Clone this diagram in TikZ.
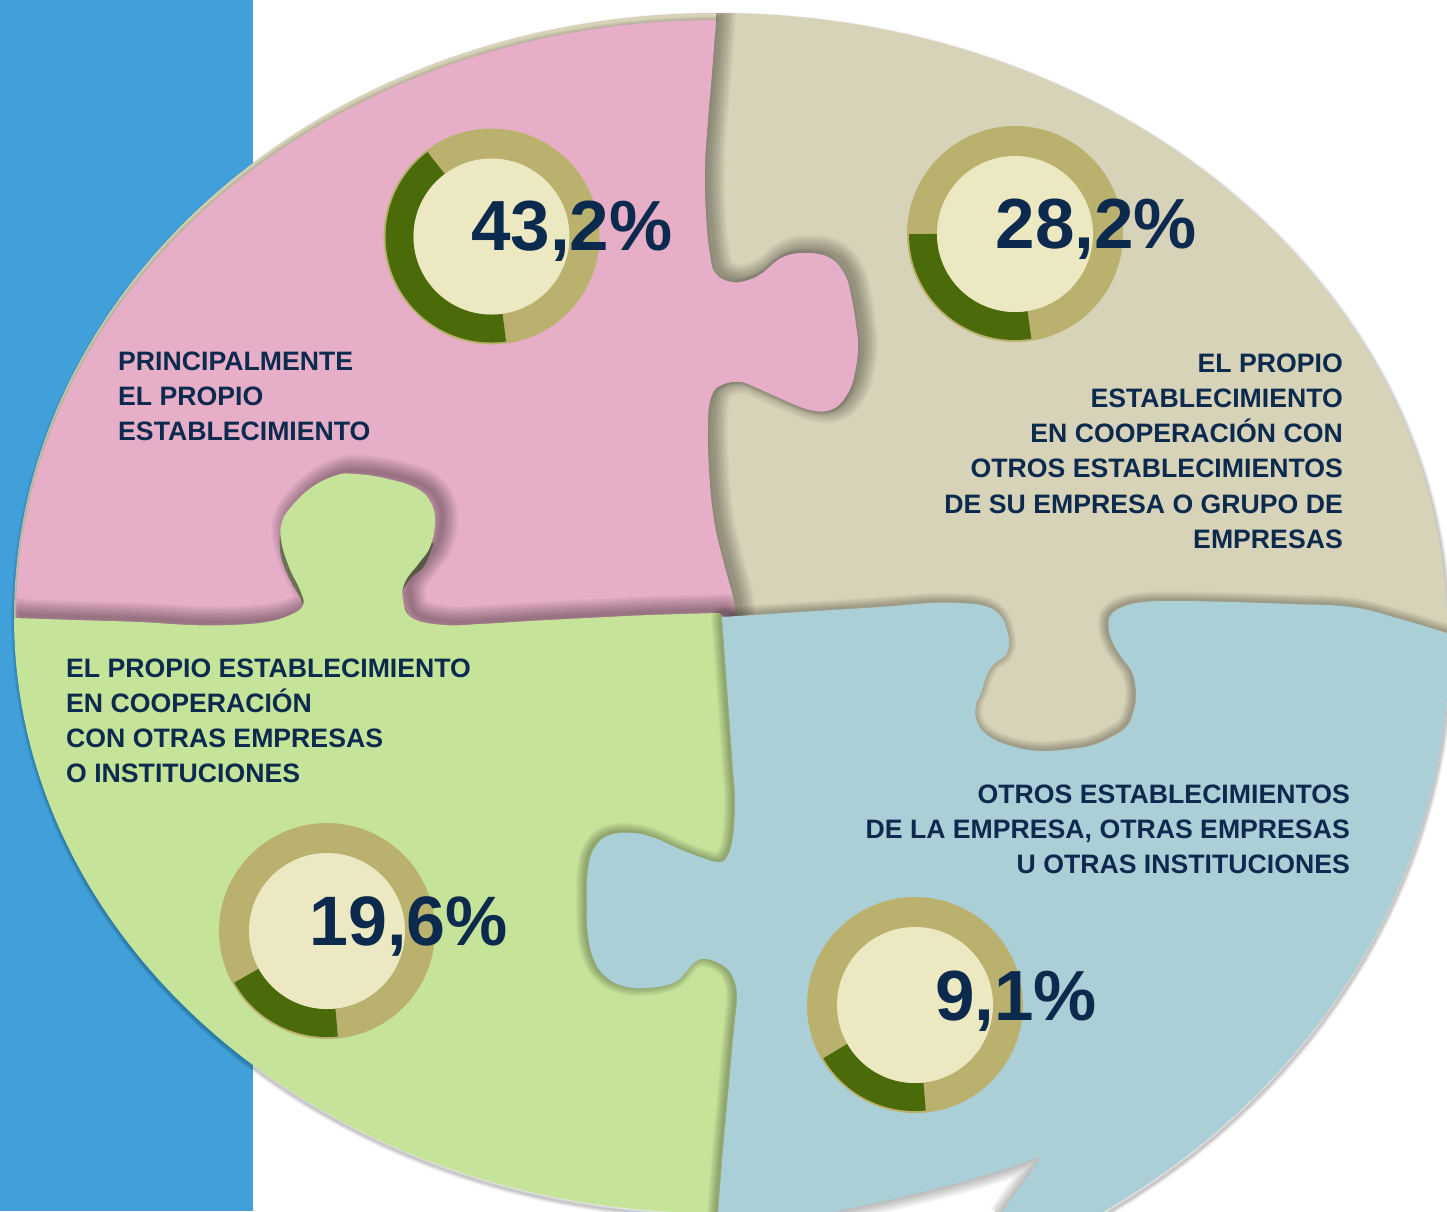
\documentclass[tikz,border=0pt]{standalone}
\usepackage{fontspec}
\setmainfont{Liberation Sans}
\definecolor{barblue}{HTML}{41A0DA}
\definecolor{pinkpc}{HTML}{E6AFC7}
\definecolor{tanpc}{HTML}{D7D3B8}
\definecolor{greenpc}{HTML}{C6E39A}
\definecolor{bluepc}{HTML}{ABCFD7}
\definecolor{ringc}{HTML}{BBB16E}
\definecolor{darkc}{HTML}{4B6A0A}
\definecolor{innerc}{HTML}{ECE9C2}
\definecolor{textc}{HTML}{0C2A4E}
\definecolor{crescent}{HTML}{85866C}
\tikzset{
  sm/.style={smooth,tension=.7},
  lab/.style={inner sep=0pt,text=textc,font=\fontsize{26.65}{35.2}\selectfont\bfseries},
  pct/.style={inner sep=0pt,text=textc,anchor=base west,font=\fontsize{71}{71}\selectfont\bfseries},
}
\def\ovaltop{(14,617) arc[start angle=180,end angle=90,x radius=702pt,y radius=604pt] arc[start angle=90,end angle=0,x radius=731pt,y radius=618pt]}
\def\ovalbr{(1447,699) arc[start angle=-5,end angle=-58,x radius=750pt,y radius=678pt]}
\def\ovalbl{(716,1213) arc[start angle=270,end angle=180,x radius=702pt,y radius=596pt]}
\def\notchedge{(1042,1156) .. controls (980,1180) and (900,1198) .. (820,1215)}
\edef\ovalpath{\ovaltop -- \ovalbr -- \ovalbl -- cycle}
\edef\tanpath{\ovaltop -- (1447,640) -- (1300,640) -- (1140,760) -- (720,760) -- (20,625) -- cycle}
\def\pinkpath{plot[sm] coordinates{(716,20)(712,73)(708,120)(705,167)(706,215)(710,255)(716,274)(732,282)(748,280)(762,273)(783,257)(807,253)(830,258)(845,275)(852,300)(856,325)(858,347)(855,372)(848,393)(833,409)(810,410)(777,397)(757,388)(740,382)(722,385)(712,395)(708,420)(709,470)(714,520)(723,560)(733,597)(735,613)}
 -- (735,640) -- (30,640) -- (16,618) arc[start angle=180,end angle=90,x radius=700pt,y radius=598pt] -- cycle}
\edef\greenpath{plot[sm] coordinates{(14,618)(75,620)(138,622)(190,625)(230,625)(266,622)(290,615)(303,605)(300,590)(289,567)(281,540)(282,522)(291,507)(312,487)(337,475)(355,474)(384,478)(416,488)(431,503)(435,523)(430,547)(419,563)(405,582)(403,600)(412,618)(444,625)(480,624)(530,621)(587,618)(650,615)(719,613)}
 -- (728,620) -- (745,800) -- (745,1213) -- \ovalbl -- cycle}
\edef\bluepath{plot[sm] coordinates{(722,617)(800,612)(880,607)(930,603)(960,603)(985,606)(1000,615)(1007,630)(1009,645)(1005,656)(995,663)(987,675)(981,693)(976,705)(977,722)(990,737)(1015,747)(1042,751)(1070,749)(1093,745)(1115,735)(1128,725)(1134,710)(1136,697)(1135,683)(1131,670)(1122,658)(1114,645)(1109,630)(1111,615)(1125,606)(1145,602)(1175,601)(1230,602)(1290,604)(1351,607)(1397,618)(1447,633)}
 -- \ovalbr
 -- (1000,1215) -- \notchedge
 -- plot[sm] coordinates{(718,1213)(723,1150)(728,1095)(733,1040)(735,1020)(737,997)(734,980)(725,967)(707,959)(695,962)(686,972)(673,983)(647,988)(623,986)(605,976)(594,960)(588,935)(587,905)(588,870)(595,847)(610,835)(633,833)(655,838)(677,848)(700,857)(718,862)(727,857)(733,837)(735,800)(733,770)(728,700)(722,617)} -- cycle}
\edef\notchfill{(1000,1215) -- \notchedge -- cycle}
\edef\notchline{(1000,1215) -- \notchedge}
% path, dx, dy, max width, opacity
\newcommand\softshadow[5]{\begin{scope}[shift={(#2,#3)}]
  \foreach \k in {1,...,12}{\draw[black,opacity=#5,line join=round,line width=\k*#4/12*1pt] #1;}
\end{scope}}
\newcommand\donut[4]{% center x, y, start, end
  \fill[ringc] (#1,#2) circle[radius=108pt];
  \begin{scope}[shift={(#1,#2)}]
    \draw[darkc,line width=28pt] (#3:92pt) arc[start angle=#3,end angle=#4,radius=92pt];
  \end{scope}
  \fill[innerc] (#1,#2) circle[radius=78pt];
}
\begin{document}
\begin{tikzpicture}[x=1pt,y=-1pt]
\useasboundingbox (0,0) rectangle (1447,1211);
\fill[white] (0,0) rectangle (1447,1211);
\fill[barblue] (0,0) rectangle (253,1211);
\begin{scope}
  \clip (0,0) rectangle (1447,1211);
  \softshadow{\ovalpath}{1}{3}{8}{.02}
  \fill[tanpc] \tanpath;
  \begin{scope}
    \clip \tanpath;
    \softshadow{\pinkpath}{0}{0}{8}{.012}
    \begin{scope}
      \clip (690,30) rectangle (1447,1211) (716,0) rectangle (1447,30);
      \softshadow{\pinkpath}{5}{-3}{30}{.028}
    \end{scope}
  \end{scope}
  \fill[pinkpc] \pinkpath;
  \fill[crescent] plot[sm] coordinates{(280,533)(281,557)(291,582)(300,597)(303,607)} -- (320,607) -- (320,533) -- cycle;
  \fill[crescent] plot[sm] coordinates{(434,543)(424,566)(412,577)(402,592)(403,603)(408,614)} -- (390,614) -- (390,543) -- cycle;
  \begin{scope}
    \clip \pinkpath;
    \softshadow{\greenpath}{7}{-3}{32}{.03}
  \end{scope}
  \fill[greenpc] \greenpath;
  \begin{scope}
    \clip \ovalpath;
    \softshadow{\bluepath}{-2}{-1}{18}{.022}
    \fill[white] \notchfill;
  \end{scope}
  \begin{scope}
    \clip \notchfill;
    \softshadow{\notchline}{0}{0}{24}{.025}
  \end{scope}
  \fill[bluepc] \bluepath;
\end{scope}
\donut{491.5}{236.5}{127}{278}
\donut{1015}{234}{180}{279}
\donut{327}{931}{209}{276}
\donut{915}{1005}{210}{276}
\node[pct] (p1) at (471,250) {43,2\%};
\node[pct] (p2) at (995.5,248) {28,2\%};
\node[pct,font=\fontsize{70}{70}\selectfont\bfseries] (p3) at (309,945) {19,6\%};
\node[pct] (p4) at (935,1020) {9,1\%};
\node[lab,anchor=north west,align=left] (t1) at (118,351.5) {PRINCIPALMENTE\\EL PROPIO\\ESTABLECIMIENTO};
\node[lab,anchor=north east,align=right] (t2) at (1343,353.5) {EL PROPIO\\ESTABLECIMIENTO\\EN COOPERACIÓN CON\\OTROS ESTABLECIMIENTOS\\DE SU EMPRESA O GRUPO DE\\EMPRESAS};
\node[lab,anchor=north west,align=left] (t3) at (66,658.5) {EL PROPIO ESTABLECIMIENTO\\EN COOPERACIÓN\\CON OTRAS EMPRESAS\\O INSTITUCIONES};
\node[lab,anchor=north east,align=right] (t4) at (1350,784.5) {OTROS ESTABLECIMIENTOS\\DE LA EMPRESA, OTRAS EMPRESAS\\U OTRAS INSTITUCIONES};
\end{tikzpicture}
\end{document}
